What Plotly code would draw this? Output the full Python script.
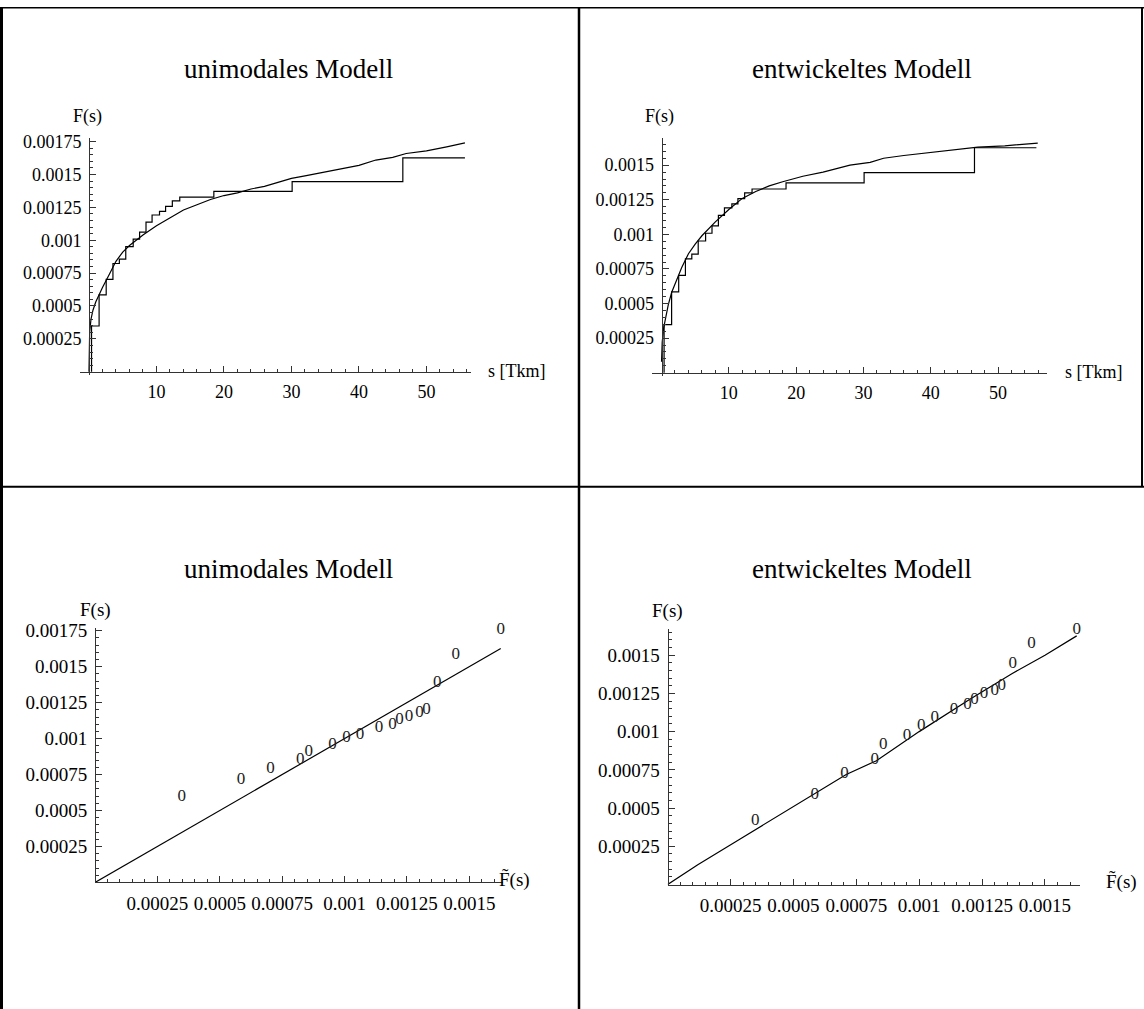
import plotly.graph_objects as go

W, H = 1144, 1009
FONT = "Liberation Serif"

# empirical distribution: jump positions s [Tkm] and level after each jump
s_jumps = [0.38, 1.5, 2.55, 3.55, 4.5, 5.45, 6.55, 7.5, 8.45, 9.35,
           10.45, 11.35, 12.35, 13.45, 18.5, 30.1, 46.5]
F_emp = [0.000348, 0.000585, 0.000703, 0.000823, 0.000857, 0.000952,
         0.001008, 0.001062, 0.001138, 0.001192, 0.001220, 0.001258,
         0.001300, 0.001328, 0.001372, 0.001446, 0.001626]
s_end = 55.7

# unimodal model F(s)
s_uni = [0, 0.1, 0.3, 0.6, 1.0, 1.5, 2, 3, 4, 5, 6, 7, 8, 10, 12, 14, 16, 18,
         20, 22, 24, 26, 28, 30, 32, 35, 38, 40, 42.5, 45, 47, 50, 53, 55.7]
F_uni = [0, 0.00030, 0.00040, 0.00047, 0.00053, 0.00059, 0.00064, 0.00074,
         0.00084, 0.00091, 0.00096, 0.00100, 0.00104, 0.00111, 0.00117,
         0.00123, 0.00127, 0.00131, 0.00134, 0.00136, 0.00139, 0.00141,
         0.00144, 0.00147, 0.00149, 0.00152, 0.00155, 0.00157, 0.00161,
         0.00163, 0.00166, 0.00168, 0.00171, 0.00174]

# developed model F(s)
s_dev = [0, 0.1, 0.3, 0.6, 1.0, 1.5, 2, 3, 4, 5, 6, 7, 8, 10, 12, 14, 16, 18,
         21, 24, 28, 31, 33, 36, 40, 44, 47, 51, 55.9]
F_dev = [0.00008, 0.00022, 0.00032, 0.00040, 0.00049, 0.00058, 0.00064,
         0.00076, 0.00086, 0.00093, 0.00099, 0.00104, 0.00109, 0.00118,
         0.00126, 0.00131, 0.00135, 0.00138, 0.00142, 0.00145, 0.00150,
         0.00152, 0.00155, 0.00157, 0.00159, 0.00161, 0.00163, 0.00164,
         0.00166]

# model values at the empirical jumps (P-P plots, x = F_emp)
pp_uni = [0.000597, 0.000715, 0.000791, 0.000855, 0.000908, 0.000959,
          0.001005, 0.001030, 0.001074, 0.001093, 0.001134, 0.001150,
          0.001180, 0.001200, 0.001385, 0.001580, 0.001760]
pp_dev = [0.000417, 0.000590, 0.000724, 0.000814, 0.000912, 0.000972,
          0.001037, 0.001089, 0.001143, 0.001175, 0.001210, 0.001247,
          0.001269, 0.001297, 0.001446, 0.001576, 0.001665]

# reference lines of the P-P plots
ref_uni_x = [0, 0.001626]
ref_uni_y = [0, 0.001626]
ref_dev_x = [0, 0.00012, 0.00029, 0.00047, 0.00057, 0.00071, 0.00083,
             0.00100, 0.00120, 0.00137, 0.00150, 0.001626]
ref_dev_y = [0, 0.00013, 0.00030, 0.00048, 0.00058, 0.00072, 0.00081,
             0.00100, 0.00121, 0.00138, 0.00150, 0.001626]

y_ticks = [0.00025, 0.0005, 0.00075, 0.001, 0.00125, 0.0015, 0.00175]
y_text = ["0.00025", "0.0005", "0.00075", "0.001", "0.00125", "0.0015", "0.00175"]
s_ticks = [10, 20, 30, 40, 50]
s_text = ["10", "20", "30", "40", "50"]
p_ticks = [0.00025, 0.0005, 0.00075, 0.001, 0.00125, 0.0015]
p_text = ["0.00025", "0.0005", "0.00075", "0.001", "0.00125", "0.0015"]


def px(x):
    return x / W


def py(y):
    return 1 - y / H


AX = "#333333"


def axis(domain, rng, pos, side, tv, tt, minor_vals, fsize):
    return dict(domain=domain, range=rng, anchor="free", position=pos,
                side=side, showgrid=False, zeroline=False, showline=True,
                linecolor=AX, linewidth=1, ticks="inside", ticklen=6,
                tickwidth=1, tickcolor=AX, tickvals=tv, ticktext=tt,
                tickfont=dict(family=FONT, size=fsize, color="black"),
                ticklabelstandoff=4,
                minor=dict(tickvals=minor_vals, ticks="inside", ticklen=3,
                           tickwidth=1, tickcolor=AX, showgrid=False))


s_minor = [v for v in range(2, 58, 2) if v % 10]
f_minor = [k * 0.00005 for k in range(1, 36) if k % 5]
p_minor = [k * 0.00005 for k in range(1, 33) if k % 5]

fig = go.Figure()

line = dict(color="black", width=1.2)

# empirical step function, drawn in both upper panels
step_x = [s_jumps[0]] + s_jumps + [s_end]
step_y = [0] + F_emp + [F_emp[-1]]

for xa, ya, sx, sy in (("x", "y", s_uni, F_uni), ("x2", "y2", s_dev, F_dev)):
    fig.add_trace(go.Scatter(x=step_x, y=step_y, mode="lines", line=line,
                             line_shape="hv", xaxis=xa, yaxis=ya,
                             showlegend=False, hoverinfo="skip"))
    fig.add_trace(go.Scatter(x=sx, y=sy, mode="lines", line=line,
                             xaxis=xa, yaxis=ya, showlegend=False,
                             hoverinfo="skip"))

for xa, ya, rx, ry, pp in (("x3", "y3", ref_uni_x, ref_uni_y, pp_uni),
                           ("x4", "y4", ref_dev_x, ref_dev_y, pp_dev)):
    fig.add_trace(go.Scatter(x=rx, y=ry, mode="lines", line=line,
                             xaxis=xa, yaxis=ya, showlegend=False,
                             hoverinfo="skip", cliponaxis=False))
    fig.add_trace(go.Scatter(x=F_emp, y=pp, mode="text",
                             text=["0"] * len(pp), textposition="middle center",
                             textfont=dict(family=FONT, size=17, color="#222222"),
                             xaxis=xa, yaxis=ya, showlegend=False,
                             hoverinfo="skip", cliponaxis=False))

fig.update_layout(
    width=W, height=H, margin=dict(l=0, r=0, t=0, b=0),
    paper_bgcolor="white", plot_bgcolor="white",
    xaxis=axis([px(80), px(471)], [-1.33, 56.6], py(367.3), "bottom",
               s_ticks, s_text, s_minor, 18),
    yaxis=axis([py(371), py(132)], [-0.000028, 0.001777], px(89), "left",
               y_ticks, y_text, f_minor, 18),
    xaxis2=axis([px(651.7), px(1046.7)], [-1.46, 57.23], py(368.3), "bottom",
                s_ticks, s_text, s_minor, 18),
    yaxis2=axis([py(372), py(131.7)], [-0.0000266, 0.001698], px(661.5),
                "left", y_ticks[:-1], y_text[:-1], f_minor[:-1], 18),
    xaxis3=axis([px(95), px(503)], [0, 0.001635], py(881.5), "bottom",
                p_ticks, p_text, p_minor, 19),
    yaxis3=axis([py(881.5), py(625.2)], [0, 0.00177], px(95), "left",
                y_ticks, y_text, f_minor, 19),
    xaxis4=axis([px(667.6), px(1080.2)], [0, 0.00164], py(883.7), "bottom",
                p_ticks, p_text, p_minor, 19),
    yaxis4=axis([py(883.7), py(626.5)], [0, 0.00167], px(667.6), "left",
                y_ticks[:-1], y_text[:-1], f_minor[:-1], 19),
)

ann = []


def label(x, y, text, size=18):
    ann.append(dict(x=px(x), y=py(y), xref="paper", yref="paper", text=text,
                    showarrow=False, xanchor="center", yanchor="middle",
                    font=dict(family=FONT, size=size, color="black")))


label(288, 62, "unimodales Modell", 27)
label(862, 62, "entwickeltes Modell", 27)
label(288, 566, "unimodales Modell", 27)
label(862, 566, "entwickeltes Modell", 27)
label(87, 110, "F(s)")
label(660, 110, "F(s)")
label(95, 607, "F(s)", 19)
label(667, 608, "F(s)", 19)
label(517, 367, "s [Tkm]")
label(1094, 368, "s [Tkm]")
label(514, 879, "F\u0303(s)", 19)
label(1121, 881, "F\u0303(s)", 19)
fig.update_layout(annotations=ann)

# frame of the 2x2 table
frame = [
    (px(1.5), px(1.5), 0, 1, 3),
    (0, 1, py(0.7), py(0.7), 1.5),
    (px(579), px(579), 0, 1, 2.5),
    (0, 1, py(483), py(483), 2),
    (px(1142), px(1142), py(483), 1, 2),
]
fig.update_layout(shapes=[
    dict(type="line", xref="paper", yref="paper", x0=x0, x1=x1, y0=y0, y1=y1,
         line=dict(color="black", width=w))
    for x0, x1, y0, y1, w in frame
])

fig.write_html("out.html")
